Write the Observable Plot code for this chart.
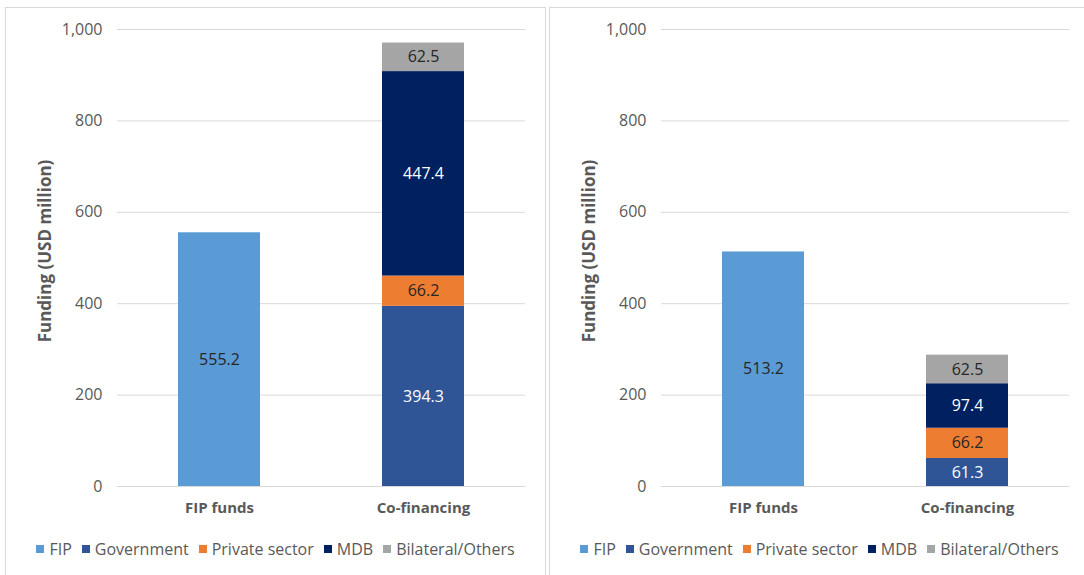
<!DOCTYPE html>
<html>
<head>
<meta charset="utf-8">
<script src="https://cdn.jsdelivr.net/npm/d3@7"></script>
<script src="https://cdn.jsdelivr.net/npm/@observablehq/plot@0.6"></script>
<style>
  html, body { margin: 0; padding: 0; background: #fff; overflow: hidden; }
  body { width: 1084px; height: 575px; position: relative; font-family: "Open Sans", sans-serif; }
  .panel { position: absolute; top: 7px; height: 600px; border: 1px solid #d9d9d9; background: #fff; box-sizing: border-box; }
  .legend { position: absolute; top: 530px; left: 0; display: flex; justify-content: center; gap: 10px;
            font-size: 16px; color: #595959; white-space: nowrap; }
  .legend span.item { display: inline-flex; align-items: center; }
  .legend span.sw { width: 8px; height: 8px; display: inline-block; margin-right: 5px; }
</style>
</head>
<body>
<div id="pA" class="panel" style="left:5px;width:541px;"></div>
<div id="pB" class="panel" style="left:549px;width:545px;"></div>
<script>
// ---- data ----
const categories = ["FIP funds", "Co-financing"];
const sources = ["FIP", "Government", "Private sector", "MDB", "Bilateral/Others"];
const sourceColors = ["#5B9BD5", "#2F5597", "#ED7D31", "#002060", "#A5A5A5"];
const darkSources = ["Government", "MDB"];
const yTicks = [0, 200, 400, 600, 800, 1000];
const yLabel = "Funding (USD million)";

// Panel A
const fipA = [555.2];
const coFinancingA = [394.3, 66.2, 447.4, 62.5]; // Government, Private sector, MDB, Bilateral/Others
// Panel B
const fipB = [513.2];
const coFinancingB = [61.3, 66.2, 97.4, 62.5];

function rowsFor(fip, co) {
  const rows = [{category: categories[0], source: sources[0], value: fip[0]}];
  co.forEach((v, i) => rows.push({category: categories[1], source: sources[i + 1], value: v}));
  return rows;
}

function chart(rows) {
  const stackOpts = (o) => Plot.stackY({x: "category", y: "value", z: "source", order: sources, ...o});
  return Plot.plot({
    width: 539,
    height: 521,
    marginLeft: 111,
    marginRight: 20,
    marginTop: 21,
    marginBottom: 43,
    style: {fontFamily: "Open Sans, sans-serif", fontSize: "16px", color: "#595959", background: "#fff"},
    x: {domain: categories, paddingInner: 0.6, paddingOuter: 0.3, label: null},
    y: {domain: [0, 1000], ticks: yTicks, label: null},
    color: {domain: sources, range: sourceColors},
    marks: [
      Plot.gridY(yTicks, {stroke: "#d9d9d9", strokeOpacity: 1, strokeWidth: 1}),
      Plot.axisY(yTicks, {tickSize: 0, tickPadding: 15, fill: "#595959", fontSize: 16, label: null, tickFormat: d3.format(",")}),
      Plot.axisX({tickSize: 0, tickPadding: 16, fontWeight: "bold", fontSize: 15, fill: "#595959", label: null}),
      Plot.barY(rows, stackOpts({fill: "source"})),
      Plot.text(rows, stackOpts({text: d => darkSources.includes(d.source) ? "" : d.value.toFixed(1), fill: "#262626", fontSize: 16})),
      Plot.text(rows, stackOpts({text: d => darkSources.includes(d.source) ? d.value.toFixed(1) : "", fill: "#ffffff", fontSize: 16})),
      Plot.text([yLabel], {frameAnchor: "left", textAnchor: "middle", rotate: -90, dx: -72, dy: -7, fontWeight: "bold", fontSize: 17, fill: "#595959"})
    ]
  });
}

function legend() {
  const div = document.createElement("div");
  div.className = "legend";
  div.style.width = "539px";
  sources.forEach((s, i) => {
    const item = document.createElement("span");
    item.className = "item";
    const sw = document.createElement("span");
    sw.className = "sw";
    sw.style.background = sourceColors[i];
    item.appendChild(sw);
    item.appendChild(document.createTextNode(s));
    div.appendChild(item);
  });
  return div;
}

const pA = document.getElementById("pA");
const svgA = chart(rowsFor(fipA, coFinancingA));
svgA.style.display = "block";
pA.appendChild(svgA);
pA.appendChild(legend());

const pB = document.getElementById("pB");
const svgB = chart(rowsFor(fipB, coFinancingB));
svgB.style.display = "block";
pB.appendChild(svgB);
pB.appendChild(legend());
</script>
</body>
</html>
